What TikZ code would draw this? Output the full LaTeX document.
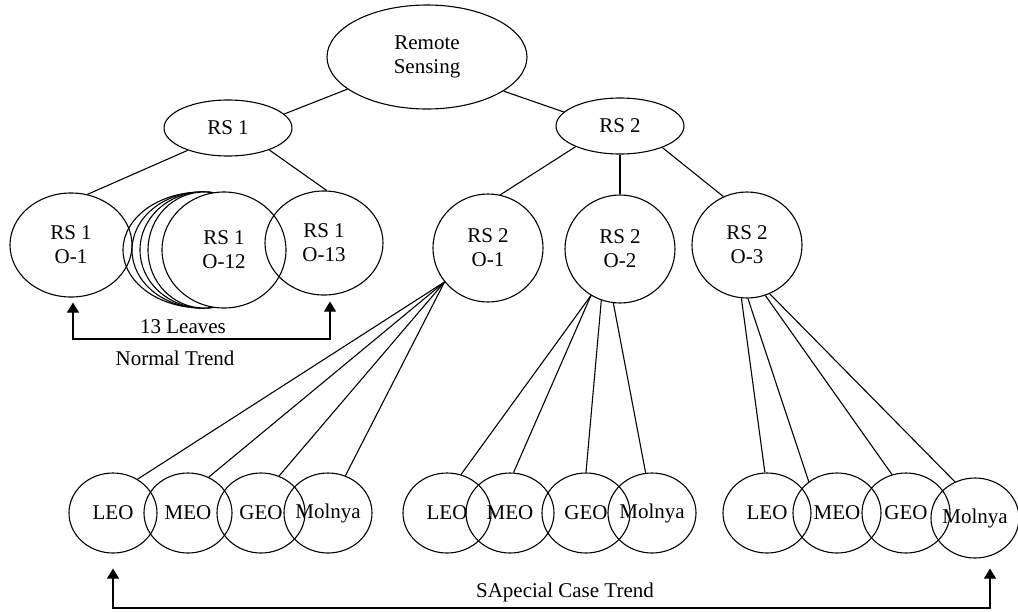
\documentclass[tikz,border=0pt]{standalone}
\usepackage{fontspec}
\setmainfont{Liberation Serif}
\usetikzlibrary{shapes.geometric,arrows.meta}

\begin{document}
\begin{tikzpicture}[x=1pt,y=-1pt,line width=1.1pt,
                    >={Triangle[width=12pt,length=10pt]},
                    font=\fontsize{21}{24}\selectfont]
  \tikzstyle{every node}=[align=center]
  \tikzstyle{blob}=[draw,ellipse,inner sep=0pt]
  \tikzstyle{rootblob}=[blob,minimum width=200pt,minimum height=104pt]
  \tikzstyle{rsblob}=[blob,minimum width=128pt,minimum height=56pt]
  \tikzstyle{oblob}=[blob,minimum width=122pt,minimum height=104pt]
  \tikzstyle{leafblob}=[blob,inner sep=-4pt,minimum width=88pt,minimum height=80pt]

  \useasboundingbox (0,0) rectangle (1018,611);

  \node[rootblob] (RS)  at (427,57)  {Remote\\Sensing};
  \node[rsblob]   (R1)  at (228,128) {RS 1};
  \node[rsblob]   (R2)  at (620,126) {RS 2};

  % the stack behind O-12
  \foreach \cx/\rx in {202/79,202/70,203/63,204/56}
    \draw[fill=white] (\cx,250) ellipse [x radius=\rx pt, y radius=58pt];
  \node[oblob,fill=white,minimum width=124pt,minimum height=116pt]
                  (O12) at (224,250) {RS 1\\O-12};
  \node[oblob]    (O11) at (71,245)  {RS 1\\O-1};
  \node[oblob,minimum width=118pt] (O13) at (324,243) {RS 1\\O-13};

  \node[oblob,minimum width=110pt,minimum height=108pt] (O21) at (488,248) {RS 2\\O-1};
  \node[oblob,minimum width=110pt,minimum height=108pt] (O22) at (620,249) {RS 2\\O-2};
  \node[oblob,minimum width=110pt,minimum height=106pt] (O23) at (747,245) {RS 2\\O-3};

  % orbit leaves
  \foreach \g/\a/\b/\c in {1/113/188/261,2/447/510/586,3/767/837/906}{
    \node[leafblob] (leo\g) at (\a,513) {LEO};
    \node[leafblob] (meo\g) at (\b,513) {MEO};
    \node[leafblob] (geo\g) at (\c,513) {GEO};
  }
  \node[leafblob] (mol1) at (328,513) {Molnya};
  \node[leafblob] (mol2) at (652,513) {Molnya};
  \node[leafblob] (mol3) at (975,518) {Molnya};

  \path (RS.202) edge (R1.14)
        (RS.336) edge (R2.166)
        (R1.209) edge (O11.72)
        (R1.332) edge (O13.87)
        (R2.205) edge (O21.77)
        (R2.south) edge (O22.north)
        (R2.333) edge (O23.116);

  \path (O21.218) edge (leo1.54)
                  edge (meo1.60)
                  edge (geo1.64)
                  edge (mol1.65)
        (O22.238) edge (leo2.70)
                  edge (meo2.85)
        (O22.250) edge (geo2.90)
        (O22.263) edge (mol2.99)
        (O23.264) edge (leo3.93)
        (O23.271) edge (meo3.132)
        (O23.290) edge (geo3.110)
        (O23.295) edge (mol3.119);

  % trends
  \coordinate (nb) at (200,339);
  \draw[<->,shorten <=5pt,shorten >=6pt] ([xshift=2pt]O11.south) |- (nb) -| ([xshift=6pt]O13.south);
  \node (lv) at (183,327) {13 Leaves};
  \node (nt) at (175,358) {Normal Trend};

  \coordinate (sb) at (550,608);
  \draw[<->,shorten <=15pt,shorten >=10pt] (leo1.south) |- (sb) -| ([xshift=15pt]mol3.south);
  \node (sc) at (565,592) {SApecial Case Trend};
\end{tikzpicture}
\end{document}
